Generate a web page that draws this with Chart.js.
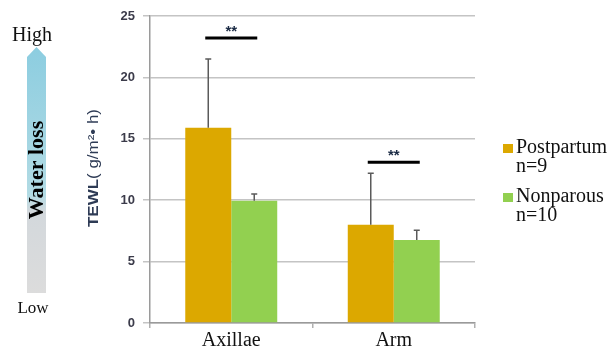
<!DOCTYPE html>
<html>
<head>
<meta charset="utf-8">
<script src="https://cdn.jsdelivr.net/npm/chart.js@4/dist/chart.umd.min.js"></script>
<style>
  html, body { margin: 0; padding: 0; background: #fff; }
  #wrap { position: relative; width: 616px; height: 350px; }
</style>
</head>
<body>
<div id="wrap"><canvas id="c" width="616" height="350"></canvas></div>
<script>
// TEWL by skin site, mean with upward SD bars
const sites = ['Axillae', 'Arm'];
const groupNames = [['Postpartum', 'n=9'], ['Nonparous', 'n=10']];
const postpartumMean = [15.9, 8.0];
const postpartumSD = [5.6, 4.2];
const nonparousMean = [9.95, 6.75];
const nonparousSD = [0.55, 0.8];
const yTicks = [0, 5, 10, 15, 20, 25];
// significance marks: site index, bracket height (data units), label
const sigSites = [0, 1];
const sigLevel = [23.2, 13.1];
const sigText = ['**', '**'];

const serif = '"Liberation Serif", "Times New Roman", serif';
const sans = '"Liberation Sans", Arial, sans-serif';
const colors = ['#dca800', '#92d050'];

// upward error bars with small caps
const errorBars = {
  id: 'errorBars',
  afterDatasetsDraw(chart) {
    const ctx = chart.ctx;
    const y = chart.scales.y;
    const sds = [postpartumSD, nonparousSD];
    ctx.save();
    ctx.strokeStyle = '#5a5a5a';
    ctx.lineWidth = 1.5;
    chart.data.datasets.forEach((ds, di) => {
      const meta = chart.getDatasetMeta(di);
      meta.data.forEach((bar, i) => {
        const top = y.getPixelForValue(ds.data[i] + sds[di][i]);
        const base = y.getPixelForValue(ds.data[i]);
        ctx.beginPath();
        ctx.moveTo(bar.x, base);
        ctx.lineTo(bar.x, top);
        ctx.moveTo(bar.x - 3, top);
        ctx.lineTo(bar.x + 3, top);
        ctx.stroke();
      });
    });
    ctx.restore();
  }
};

// significance brackets and asterisks above each site
const sigMarks = {
  id: 'sigMarks',
  afterDatasetsDraw(chart) {
    const ctx = chart.ctx;
    const x = chart.scales.x;
    const y = chart.scales.y;
    ctx.save();
    sigSites.forEach((s, k) => {
      const cx = x.getPixelForValue(s);
      const py = y.getPixelForValue(sigLevel[k]);
      ctx.strokeStyle = '#000';
      ctx.lineWidth = 3;
      ctx.beginPath();
      ctx.moveTo(cx - 26, py);
      ctx.lineTo(cx + 26, py);
      ctx.stroke();
      ctx.fillStyle = '#1a2a44';
      ctx.font = 'bold 15px ' + sans;
      ctx.textAlign = 'center';
      ctx.textBaseline = 'middle';
      ctx.fillText(sigText[k], cx, py - 6);
    });
    ctx.restore();
  }
};

// side decorations: water-loss arrow, y title, legend
const decor = {
  id: 'decor',
  afterDraw(chart) {
    const ctx = chart.ctx;
    const area = chart.chartArea;
    ctx.save();

    // arrow bar
    const l = 27, r = 46, tip = 47, shoulder = 57, bottom = 293;
    const g = ctx.createLinearGradient(0, tip, 0, bottom);
    g.addColorStop(0, '#8ccde0');
    g.addColorStop(0.6, '#b2dbe4');
    g.addColorStop(0.67, '#d3d8dc');
    g.addColorStop(1, '#dcdcdc');
    ctx.fillStyle = g;
    ctx.beginPath();
    ctx.moveTo((l + r) / 2, tip);
    ctx.lineTo(r, shoulder);
    ctx.lineTo(r, bottom);
    ctx.lineTo(l, bottom);
    ctx.lineTo(l, shoulder);
    ctx.closePath();
    ctx.fill();

    ctx.fillStyle = '#111';
    ctx.textAlign = 'center';
    ctx.textBaseline = 'alphabetic';
    ctx.font = '20px ' + serif;
    ctx.fillText('High', 32, 41);
    ctx.font = '17px ' + serif;
    ctx.fillText('Low', 33, 313);

    ctx.save();
    ctx.translate(37, 170);
    ctx.rotate(-Math.PI / 2);
    ctx.textBaseline = 'middle';
    ctx.font = 'bold 22px ' + serif;
    ctx.fillStyle = '#000';
    ctx.fillText('Water loss', 0, 0);
    ctx.restore();

    // y axis title: bold "TEWL" followed by unit, stretched along its run
    ctx.save();
    ctx.translate(94, 168);
    ctx.rotate(-Math.PI / 2);
    ctx.textBaseline = 'middle';
    ctx.textAlign = 'left';
    const boldPart = 'TEWL';
    const unitPart = '( g/m\u00b2\u2022 h)';
    ctx.font = 'bold 14px ' + sans;
    const w1 = ctx.measureText(boldPart).width;
    ctx.font = '14px ' + sans;
    const w2 = ctx.measureText(unitPart).width;
    const stretch = 118 / (w1 + w2);
    ctx.scale(stretch, 1);
    const start = -(w1 + w2) / 2;
    ctx.fillStyle = '#2e3b55';
    ctx.font = 'bold 14px ' + sans;
    ctx.fillText(boldPart, start, 0);
    ctx.font = '14px ' + sans;
    ctx.fillText(unitPart, start + w1, 0);
    ctx.restore();

    // legend
    const lx = 503, rows = [153, 202];
    chart.data.datasets.forEach((ds, i) => {
      const ty = rows[i];
      ctx.fillStyle = ds.backgroundColor;
      ctx.fillRect(lx, ty - 9, 10, 9);
      ctx.fillStyle = '#111';
      ctx.font = '20px ' + serif;
      ctx.textAlign = 'left';
      ctx.textBaseline = 'alphabetic';
      ctx.fillText(groupNames[i][0], lx + 13, ty);
      ctx.fillText(groupNames[i][1], lx + 13, ty + 19);
    });
    ctx.restore();
  }
};

new Chart(document.getElementById('c'), {
  type: 'bar',
  data: {
    labels: sites,
    datasets: [
      { label: groupNames[0].join(' '), data: postpartumMean, backgroundColor: colors[0] },
      { label: groupNames[1].join(' '), data: nonparousMean, backgroundColor: colors[1] }
    ]
  },
  options: {
    responsive: false,
    animation: false,
    layout: { padding: { left: 80, right: 141, top: 16, bottom: 0 } },
    plugins: { legend: { display: false }, tooltip: { enabled: false } },
    datasets: { bar: { categoryPercentage: 0.566, barPercentage: 1.0 } },
    scales: {
      x: {
        grid: { display: true, drawOnChartArea: false, color: '#b0b0b0', tickLength: 5, lineWidth: 1.5 },
        border: { color: '#9a9a9a', width: 1.5 },
        ticks: { color: '#111', font: { family: serif, size: 20 }, padding: 1 },
        afterFit(s) { s.height = 27; }
      },
      y: {
        min: 0, max: 25,
        afterBuildTicks(s) { s.ticks = yTicks.map(v => ({ value: v })); },
        grid: { color: '#c4c4c4', lineWidth: 1.5, tickLength: 7 },
        border: { color: '#9a9a9a', width: 1.5 },
        ticks: { color: '#3b3b4a', font: { family: sans, size: 13, weight: 'bold' }, padding: 8 },
        afterFit(s) { s.width = 70; }
      }
    }
  },
  plugins: [errorBars, sigMarks, decor]
});
</script>
</body>
</html>
